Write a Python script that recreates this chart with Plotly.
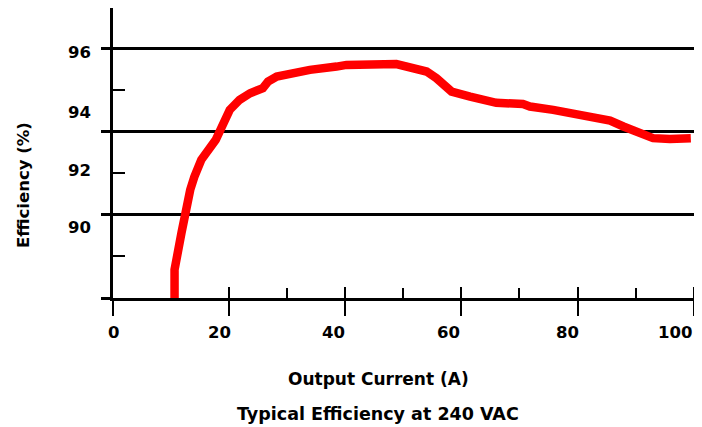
import plotly.graph_objects as go

# Output current (A) and efficiency (%)
current = [10.6, 10.6, 11.8, 12.5, 13.3, 14.0, 15.2, 17.7, 19.0, 20.1, 21.8, 23.6,
           25.8, 26.7, 28.2, 31.0, 33.9, 38.5, 40.2, 48.8, 51.6, 54.0, 55.7, 57.2,
           58.3, 61.5, 64.3, 66.0, 70.6, 71.8, 75.8, 80.4, 83.3, 85.6, 87.9, 90.8,
           93.0, 95.9, 98.8, 99.5]
efficiency = [89.9, 90.68, 91.57, 92.19, 92.60, 92.91, 93.32, 93.80, 94.21, 94.52, 94.76, 94.92,
              95.04, 95.20, 95.32, 95.40, 95.48, 95.56, 95.60, 95.62, 95.54, 95.44, 95.28, 95.12,
              94.96, 94.84, 94.76, 94.69, 94.66, 94.60, 94.52, 94.40, 94.34, 94.26, 94.12, 93.96,
              93.84, 93.82, 93.86, 93.84]

# axis ticks
x_major = [0, 20, 40, 60, 80, 100]
x_major_inner = [20, 40, 60, 80, 100]
x_minor = [30, 50, 70, 90]
x_label_text = ["0", "20", "40", "60", "80", "100"]
x_label_pos = [0, 18.4, 37.9, 57.8, 78.2, 96.8]

y_major = [90, 92, 94, 96]
y_minor = [91, 93, 95]
y_label_text = ["96", "94", "92", "90"]
y_label_pos = [95.90, 94.46, 93.08, 91.69]

x_range = [0, 100.74]
y_range = [90, 96.967]

FONT = "DejaVu Sans"
BLACK = "#000000"

fig = go.Figure()
fig.add_trace(go.Scatter(
    x=current, y=efficiency, mode="lines",
    line=dict(color="#ff0000", width=8.5),
    hoverinfo="skip", showlegend=False,
))

fig.update_layout(
    width=694, height=419,
    margin=dict(l=105, r=4, t=0, b=129),
    paper_bgcolor="white", plot_bgcolor="white",
    font=dict(family=FONT, size=16, color=BLACK, weight="bold"),
    showlegend=False,
    xaxis=dict(
        range=x_range, tickmode="array", tickvals=x_major,
        ticks="outside", ticklen=15, tickwidth=2, tickcolor=BLACK,
        showticklabels=False, showgrid=False, zeroline=False,
        showline=True, linecolor=BLACK, linewidth=2.5,
        minor=dict(tickmode="array", tickvals=x_minor, ticks="inside",
                   ticklen=10, tickwidth=2, tickcolor=BLACK, showgrid=False),
    ),
    xaxis2=dict(
        overlaying="x", anchor="y", side="bottom", range=x_range,
        tickmode="array", tickvals=x_major_inner,
        ticks="inside", ticklen=11, tickwidth=2, tickcolor=BLACK,
        showticklabels=False, showgrid=False, zeroline=False, showline=False,
    ),
    yaxis=dict(
        range=y_range, tickmode="array", tickvals=y_major,
        ticks="outside", ticklen=9, tickwidth=2.5, tickcolor=BLACK,
        showticklabels=False, showgrid=True, gridcolor=BLACK, gridwidth=2.5,
        zeroline=False, showline=True, linecolor=BLACK, linewidth=2.5,
        minor=dict(tickmode="array", tickvals=y_minor, ticks="inside",
                   ticklen=12, tickwidth=2, tickcolor=BLACK, showgrid=False),
    ),
    yaxis2=dict(
        overlaying="y", anchor="x", side="left", range=y_range,
        tickmode="array", tickvals=y_label_pos, ticktext=y_label_text,
        ticks="", showgrid=False, zeroline=False, showline=False,
        ticklabelstandoff=21,
        tickfont=dict(family=FONT, size=16.5, color=BLACK, weight="bold"),
    ),
)

# dummy traces so the overlay axes are drawn
fig.add_trace(go.Scatter(x=[None], y=[None], xaxis="x2", yaxis="y", showlegend=False, hoverinfo="skip"))
fig.add_trace(go.Scatter(x=[None], y=[None], xaxis="x", yaxis="y2", showlegend=False, hoverinfo="skip"))

# x tick labels, placed on the x scale
for pos, txt in zip(x_label_pos, x_label_text):
    fig.add_annotation(text=txt, xref="x", yref="paper", x=pos, y=-0.1195,
                       showarrow=False, xanchor="center", yanchor="middle",
                       font=dict(family=FONT, size=16.5, color=BLACK, weight="bold"))

fig.add_annotation(text="Efficiency (%)", xref="paper", yref="paper",
                   x=-0.154, y=0.389, textangle=-90, showarrow=False,
                   xanchor="center", yanchor="middle",
                   font=dict(family=FONT, size=16.5, color=BLACK, weight="bold"))
fig.add_annotation(text="Output Current (A)", xref="paper", yref="paper",
                   x=0.453, y=-0.278, showarrow=False,
                   xanchor="center", yanchor="middle",
                   font=dict(family=FONT, size=17, color=BLACK, weight="bold"))
fig.add_annotation(text="Typical Efficiency at 240 VAC", xref="paper", yref="paper",
                   x=0.453, y=-0.399, showarrow=False,
                   xanchor="center", yanchor="middle",
                   font=dict(family=FONT, size=17.5, color=BLACK, weight="bold"))

fig.write_html("out.html")
